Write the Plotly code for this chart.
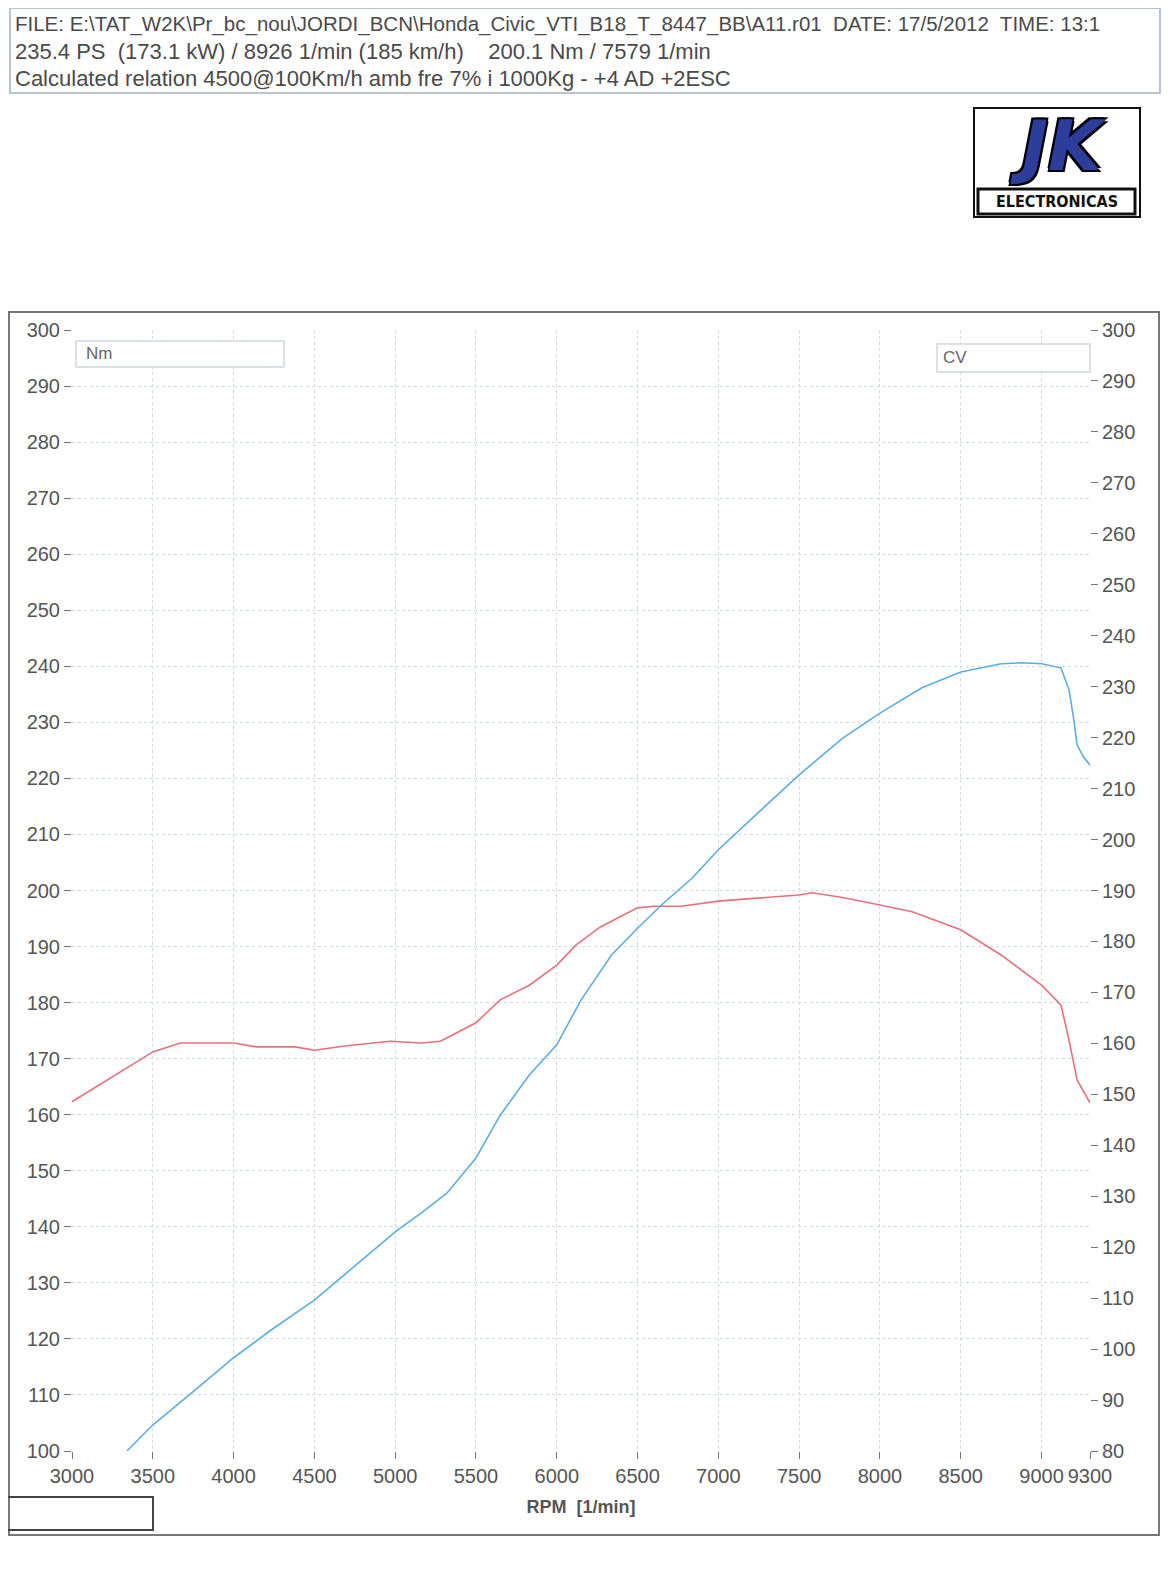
import plotly.graph_objects as go

# ---- data ----
rpm_nm = [3000, 3500, 3670, 4000, 4140, 4380, 4500, 4700, 4970, 5160, 5280, 5500, 5650,
          5830, 6000, 6120, 6270, 6500, 6600, 6770, 7000, 7270, 7500, 7580, 7760, 8000,
          8200, 8500, 8750, 9000, 9120, 9170, 9220, 9300]
torque_nm = [162.3, 171.2, 172.8, 172.8, 172.1, 172.1, 171.5, 172.3, 173.1, 172.8, 173.1,
             176.4, 180.5, 183.1, 186.7, 190.3, 193.5, 196.9, 197.2, 197.2, 198.1, 198.7,
             199.2, 199.6, 198.8, 197.4, 196.2, 193.0, 188.5, 183.1, 179.6, 173.3, 166.2, 162.1]

rpm_cv = [3340, 3500, 3800, 4000, 4230, 4500, 4720, 5000, 5160, 5320, 5500, 5650, 5830,
          6000, 6150, 6340, 6500, 6650, 6840, 7000, 7210, 7500, 7770, 8000, 8260, 8500,
          8750, 8880, 9000, 9120, 9170, 9200, 9220, 9260, 9300]
power_cv = [80.0, 85.1, 93.0, 98.3, 103.7, 109.6, 115.5, 123.0, 126.7, 130.6, 137.5, 145.9,
            153.8, 159.7, 168.5, 177.4, 182.6, 187.2, 192.5, 198.0, 204.2, 212.7, 219.9,
            224.8, 229.8, 232.9, 234.5, 234.7, 234.5, 233.7, 229.4, 223.5, 218.6, 216.2, 214.6]

x_ticks = [3000, 3500, 4000, 4500, 5000, 5500, 6000, 6500, 7000, 7500, 8000, 8500, 9000, 9300]
nm_ticks = list(range(100, 301, 10))
cv_ticks = list(range(80, 301, 10))

header_lines = [
    "FILE: E:\\TAT_W2K\\Pr_bc_nou\\JORDI_BCN\\Honda_Civic_VTI_B18_T_8447_BB\\A11.r01  DATE: 17/5/2012  TIME: 13:1",
    "235.4 PS  (173.1 kW) / 8926 1/min (185 km/h)    200.1 Nm / 7579 1/min",
    "Calculated relation 4500@100Km/h amb fre 7% i 1000Kg - +4 AD +2ESC",
]
header_sizes = [20.5, 22, 22]

# the page body has an 8px margin, so work in page pixels and shift by it
OFF = 8
W, H = 1170 - OFF, 1572 - OFF
L, R, T, B = 72 - OFF, 1090 - OFF, 330 - OFF, 1451 - OFF


def px(x):
    return (x - OFF - L) / (R - L)


def py(y):
    return (B - (y - OFF)) / (B - T)


FONT = "Liberation Sans, Arial, sans-serif"
GRID = "#cfdce8"

fig = go.Figure()
fig.add_trace(go.Scatter(x=rpm_nm, y=torque_nm, mode="lines", name="Nm",
                         line=dict(color="#e8707c", width=1.6), yaxis="y"))
fig.add_trace(go.Scatter(x=rpm_cv, y=power_cv, mode="lines", name="CV",
                         line=dict(color="#5aaee0", width=1.6), yaxis="y2"))

fig.update_layout(
    width=W, height=H,
    margin=dict(l=L, r=W - R, t=T, b=H - B),
    paper_bgcolor="white", plot_bgcolor="white",
    showlegend=False,
    font=dict(family=FONT, color="#555555", size=20),
    xaxis=dict(range=[3000, 9300], tickvals=x_ticks, ticktext=[str(v) for v in x_ticks],
               showgrid=True, gridcolor=GRID, griddash="dot", gridwidth=1,
               ticks="outside", ticklen=7, tickcolor="#777", zeroline=False,
               showline=False, tickfont=dict(size=20, color="#555"),
               title=dict(text="<b>RPM  [1/min]</b>", font=dict(size=18, color="#555"), standoff=14)),
    yaxis=dict(range=[100, 300], tickvals=nm_ticks, showgrid=True, gridcolor=GRID,
               griddash="dot", ticks="outside", ticklen=7, tickcolor="#777",
               zeroline=False, showline=False, tickfont=dict(size=20, color="#555")),
    yaxis2=dict(range=[80, 300], tickvals=cv_ticks, overlaying="y", side="right",
                showgrid=False, ticks="outside", ticklen=7, tickcolor="#777",
                zeroline=False, showline=False, tickfont=dict(size=20, color="#555")),
)

shapes = []
# header box
shapes.append(dict(type="rect", xref="paper", yref="paper",
                   x0=px(10), x1=px(1160), y0=py(93), y1=py(8),
                   line=dict(color="#b8c4d0", width=2)))
# outer chart frame
shapes.append(dict(type="rect", xref="paper", yref="paper",
                   x0=px(9), x1=px(1159), y0=py(1535), y1=py(312),
                   line=dict(color="#777777", width=2)))
# small bottom-left box
shapes.append(dict(type="rect", xref="paper", yref="paper",
                   x0=px(6), x1=px(153), y0=py(1530), y1=py(1497),
                   line=dict(color="#444444", width=2)))
# legend boxes
shapes.append(dict(type="rect", xref="paper", yref="paper",
                   x0=px(76), x1=px(284), y0=py(367), y1=py(341),
                   line=dict(color="#d0d8e0", width=1.5), fillcolor="white"))
shapes.append(dict(type="rect", xref="paper", yref="paper",
                   x0=px(937), x1=px(1090), y0=py(372), y1=py(344),
                   line=dict(color="#d0d8e0", width=1.5), fillcolor="white"))
# logo box
shapes.append(dict(type="rect", xref="paper", yref="paper",
                   x0=px(974), x1=px(1140), y0=py(217), y1=py(108),
                   line=dict(color="#111", width=2), fillcolor="white"))
shapes.append(dict(type="rect", xref="paper", yref="paper",
                   x0=px(978), x1=px(1135), y0=py(214), y1=py(189),
                   line=dict(color="#111", width=3), fillcolor="white"))
fig.update_layout(shapes=shapes)

ann = []
for i, line in enumerate(header_lines):
    ann.append(dict(xref="paper", yref="paper", x=px(13), y=py(24 + 27 * i),
                    xanchor="left", yanchor="middle", showarrow=False, text=line,
                    font=dict(size=header_sizes[i], color="#4a4a4a")))
ann.append(dict(xref="paper", yref="paper", x=px(84), y=py(353), xanchor="left",
                yanchor="middle", showarrow=False, text="Nm",
                font=dict(size=17, color="#666")))
ann.append(dict(xref="paper", yref="paper", x=px(941), y=py(357), xanchor="left",
                yanchor="middle", showarrow=False, text="CV",
                font=dict(size=17, color="#666")))
# logo
ann.append(dict(xref="paper", yref="paper", x=px(1058), y=py(146), xanchor="center",
                yanchor="middle", showarrow=False, text="<b><i>JK</i></b>",
                font=dict(size=70, color="#2d3d9c", family="DejaVu Sans, sans-serif",
                          shadow="2px 2px 0 #000, -2px -2px 0 #000, 2px -2px 0 #000, -2px 2px 0 #000")))
ann.append(dict(xref="paper", yref="paper", x=px(1057), y=py(202), xanchor="center",
                yanchor="middle", showarrow=False, text="<b>ELECTRONICAS</b>",
                font=dict(size=16, color="#111", family="DejaVu Sans Condensed, DejaVu Sans, sans-serif")))
fig.update_layout(annotations=ann)

fig.write_html("out.html")
